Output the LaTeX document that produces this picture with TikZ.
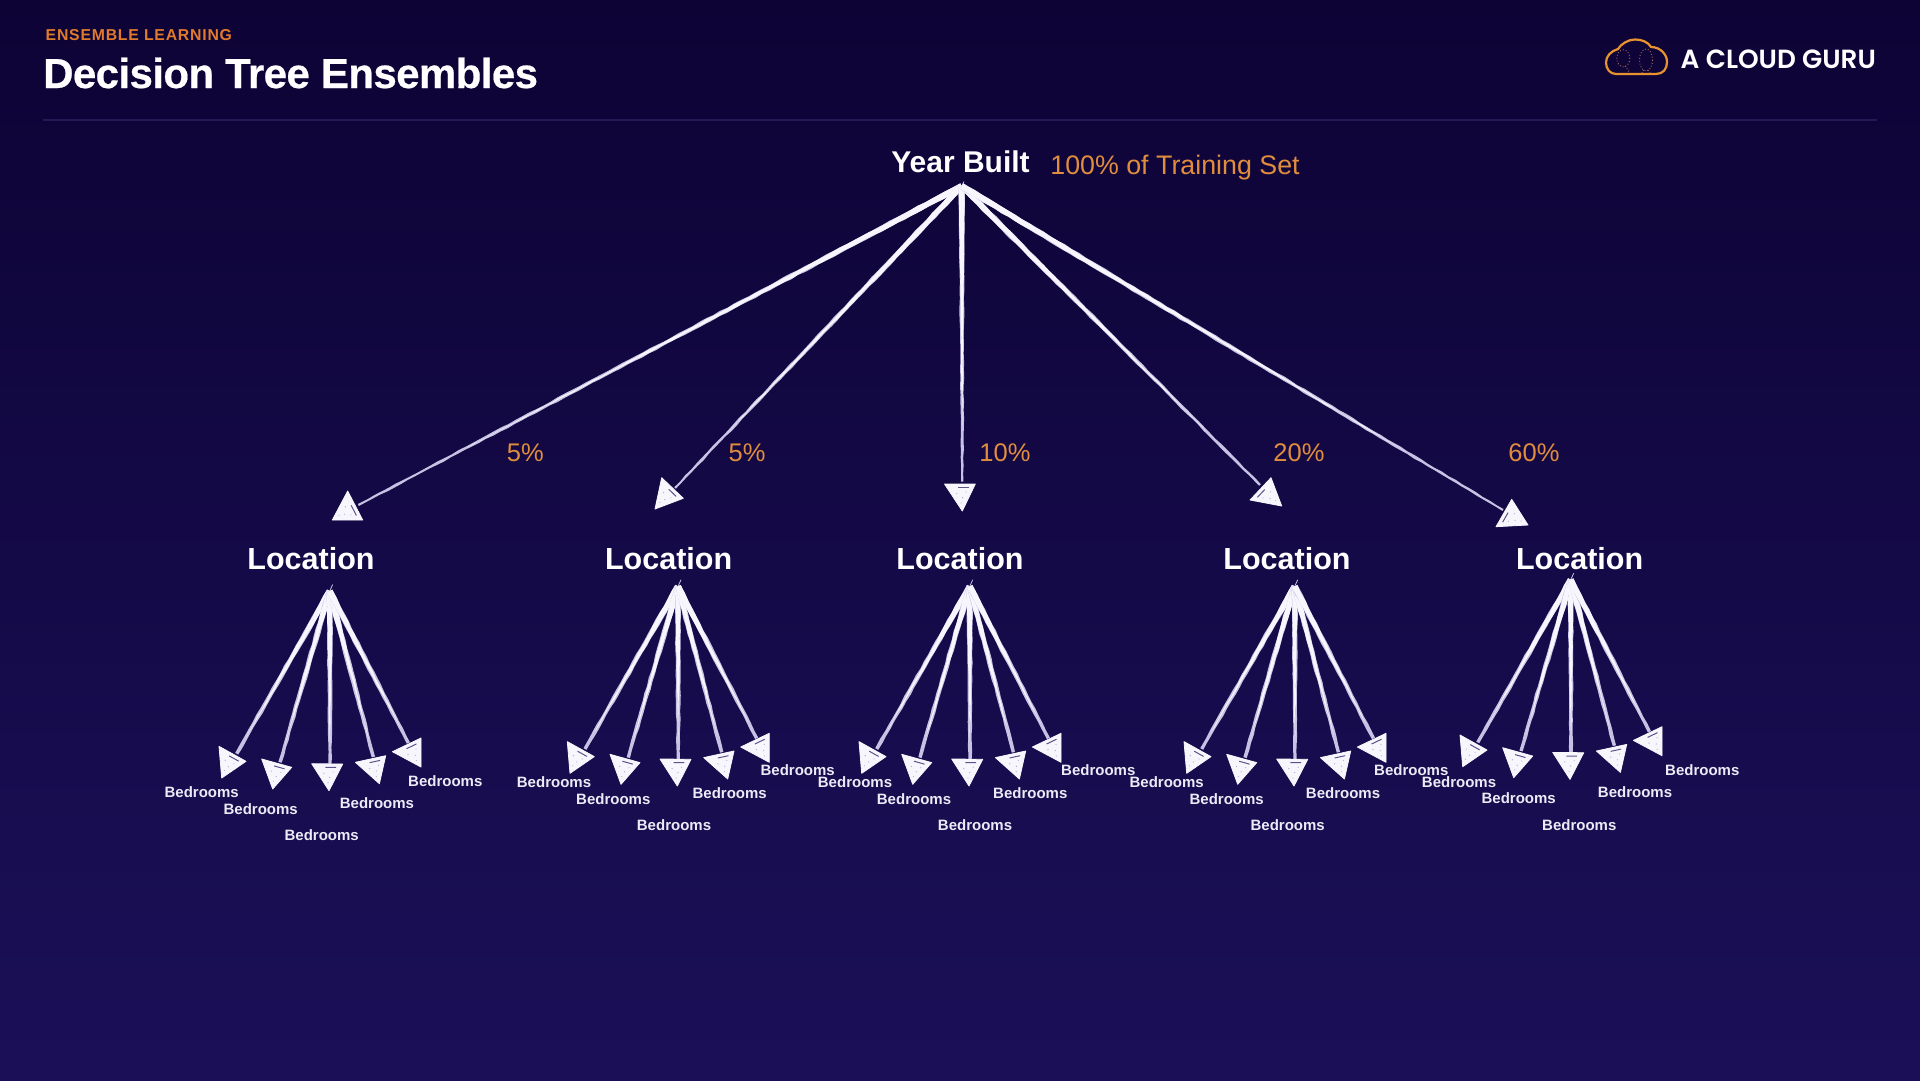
\documentclass[tikz,border=0pt]{standalone}
\usepackage{fontspec}
\setmainfont{Liberation Sans}
\newfontfamily\logofont{Poppins SemiBold}
\usetikzlibrary{calc,decorations.pathmorphing}
\definecolor{bgtop}{HTML}{0D0335}
\definecolor{bgmid}{HTML}{190E52}
\definecolor{bgbot}{HTML}{1B1058}
\definecolor{chalk}{HTML}{F7F6FC}
\definecolor{chalkdim}{HTML}{C6C2E4}
\definecolor{scratch}{HTML}{5A5488}
\definecolor{speck}{HTML}{B5B2D2}
\definecolor{accent}{HTML}{E08D3E}
\definecolor{kicker}{HTML}{E07A2C}
\definecolor{rulecol}{HTML}{241A55}
\definecolor{bedcol}{HTML}{ECEAF6}
\definecolor{logoline}{HTML}{E8932F}
\definecolor{logodots}{HTML}{A8705A}
\tikzset{
  txt/.style={inner sep=0pt,anchor=base,text=white},
  bed/.style={txt,text=bedcol,yshift=-5.4pt,font=\bfseries\fontsize{15}{18}\selectfont},
  loc/.style={txt,font=\bfseries\fontsize{30.5}{36}\selectfont},
  pct/.style={txt,text=accent,font=\fontsize{25.5}{30}\selectfont},
  rough/.style={decorate,decoration={random steps,segment length=8pt,amplitude=.4pt}},
  armouter/.style={fill=chalkdim,rough},
  arminner/.style={fill=chalk,rough},
  headfill/.style={fill=chalk,draw=chalk,line width=.8pt,line join=round},
  headmark/.style={draw=scratch,line width=1pt},
  headspeck/.style={fill=speck},
}
% #1 name, #2 root, #3 line end, #4 #5 side facing the root, #6 far corner,
% #7 half width at the root, #8 half width at the end, #9 share of the bright core
\newcommand\arrowarm[9]{%
  \coordinate (#1e) at (#3);
  \coordinate (#1p) at (#4);
  \coordinate (#1q) at (#5);
  \coordinate (#1s) at (#6);
  \path[armouter] ($(#2)!#7pt!90:(#1e)$) -- ($(#2)!#7pt!-90:(#1e)$)
     -- ($(#1e)!#8pt!90:(#2)$) -- ($(#1e)!#8pt!-90:(#2)$) -- cycle;
  \path[arminner] ($(#2)!#7pt!90:(#1e)$) -- ($(#2)!#7pt!-90:(#1e)$)
     -- ($(#2)!#9!(#1e)$) -- cycle;
  \path[headfill] (#1p) -- (#1q) -- (#1s) -- cycle;
  \path[headmark] ($($(#1p)!.42!(#1q)$)!.13!(#1s)$) -- ($($(#1p)!.82!(#1q)$)!.13!(#1s)$);
  \fill[headspeck] ($($(#1p)!.3!(#1q)$)!.35!(#1s)$) circle (.7pt)
                   ($($(#1p)!.6!(#1q)$)!.5!(#1s)$) circle (.7pt)
                   ($($(#1p)!.75!(#1q)$)!.3!(#1s)$) circle (.6pt)
                   ($($(#1p)!.45!(#1q)$)!.7!(#1s)$) circle (.6pt);
}
\newcommand\fanout[3]{%
  \begin{scope}[shift={(#2,#3)}]
    \coordinate (#1r) at (-2,3);
    \coordinate (#1t) at (1,-3.5);
    \draw[chalkdim,line width=.8pt] (#1r) -- (#1t);
    \arrowarm{#1a}{#1r}{-95,165.7}{-112.7,158.3}{-85.7,173.3}{-110,190}{3}{1.7}{.9}
    \arrowarm{#1b}{#1r}{-51.7,174.3}{-70,171}{-40,179.3}{-59,201}{3}{1.7}{.9}
    \arrowarm{#1c}{#1r}{-1.7,175.7}{-20,175.7}{11,176}{-2.7,202.7}{3}{1.7}{.9}
    \arrowarm{#1d}{#1r}{41.7,169}{23.7,174.3}{54,167.7}{47.7,195.7}{3}{1.7}{.9}
    \arrowarm{#1f}{#1r}{76.7,155}{60.7,163.7}{89.3,150}{89.3,179}{3}{1.7}{.9}
  \end{scope}
}
\begin{document}
\begin{tikzpicture}[x=1pt,y=-1pt]
\pgfmathsetseed{7}
\useasboundingbox (0,0) rectangle (1920,1080);
\shade[top color=bgtop,middle color=bgmid,bottom color=bgbot] (0,0) rectangle (1920,1080);

% header
\node[txt,anchor=base west,text=kicker,font=\bfseries\fontsize{15.8}{18}\selectfont\addfontfeatures{LetterSpace=4.9}] (kick) at (45.5,40) {ENSEMBLE LEARNING};
\node[txt,anchor=base west,font=\bfseries\fontsize{42}{48}\selectfont\addfontfeatures{FakeBold=.5,LetterSpace=-1.4}] (title) at (43,88) {Decision Tree Ensembles};
\coordinate (ruleL) at (43,120);
\coordinate (ruleR) at (1877,120);
\draw[rulecol,line width=2pt] (ruleL) -- (ruleR);

% logo
\draw[logoline,line width=2.2pt,line join=round]
  (1616,74) -- (1656,74) .. controls (1663,74) and (1667,69) .. (1667,62)
  .. controls (1667,54) and (1660,47) .. (1651,47)
  .. controls (1648,42) and (1642,39.5) .. (1635,39.5)
  .. controls (1628,39.5) and (1621,44) .. (1618,49)
  .. controls (1611,51) and (1606,56) .. (1606,62.5)
  .. controls (1606,69) and (1610,74) .. (1616,74) -- cycle;
\draw[logodots,line width=.9pt,dotted] (1623.3,58.3) ellipse [x radius=6.5,y radius=8.5];
\draw[logodots,line width=.9pt,dotted] (1625,66) -- (1630,73);
\draw[logodots,line width=.9pt,dotted] (1646,60) ellipse [x radius=6.5,y radius=11];
\draw[logodots,line width=.9pt,dotted] (1644,70) -- (1642,73) (1648,70) -- (1650,73);
\node[txt,anchor=base west,font=\logofont\fontsize{26.3}{30}\selectfont] (brand) at (1680.5,68.5) {A CLOUD GURU};

% top level
\node[txt,font=\bfseries\fontsize{30}{36}\selectfont] (year) at (960.5,172.6) {Year Built};
\node[txt,text=accent,font=\fontsize{26.8}{32}\selectfont] (share) at (1175,174) {100\% of Training Set};
\coordinate (root) at (961.7,186);
\draw[chalkdim,line width=.8pt] (root) -- (964,181.5);
\arrowarm{ma}{root}{358.3,505}{347.7,491}{362.7,520}{332.3,520}{3}{1.1}{.82}
\arrowarm{mb}{root}{675,488}{661.7,477.7}{683.3,498.3}{655,509}{3}{1.1}{.82}
\arrowarm{mc}{root}{962.3,481.7}{944.5,484}{975.3,484}{962.3,511}{3}{1.1}{.82}
\arrowarm{md}{root}{1260,485}{1271,477.7}{1250,500}{1281.7,506}{3}{1.1}{.82}
\arrowarm{mf}{root}{1503,510}{1511.7,499.3}{1496,526.7}{1528,525}{3}{1.1}{.82}

\node[pct] (p1) at (525.3,461) {5\%};
\node[pct] (p2) at (747,461) {5\%};
\node[pct] (p3) at (1005,461) {10\%};
\node[pct] (p4) at (1299,461) {20\%};
\node[pct] (p5) at (1534,461) {60\%};

\node[loc] (l1) at (311,569) {Location};
\node[loc] (l2) at (668.6,569) {Location};
\node[loc] (l3) at (960,569) {Location};
\node[loc] (l4) at (1287,569) {Location};
\node[loc] (l5) at (1579.6,569) {Location};

\fanout{u}{331.7}{588}
\fanout{v}{680}{583.3}
\fanout{w}{971.7}{583.3}
\fanout{y}{1296.7}{583.3}
\fanout{z}{1572.7}{576.7}

\foreach \n/\x/\y in {
  b1/201.7/792, b2/260.7/808.7, b3/321.7/835, b4/377/803, b5/445.3/781,
  c1/554/782.3, c2/613.3/799, c3/674/825.3, c4/729.7/793, c5/797.7/770.3,
  d1/855/782.3, d2/914/799, d3/975/825.3, d4/1030.3/793, d5/1098.3/770.3,
  e1/1166.7/782.3, e2/1226.7/799, e3/1287.7/825.3, e4/1343/793, e5/1411.3/770.3,
  f1/1459/782, f2/1518.7/798.3, f3/1579.3/824.7, f4/1635/792.3, f5/1702.3/769.7}
  \node[bed] (\n) at (\x,\y) {Bedrooms};
\end{tikzpicture}
\end{document}
